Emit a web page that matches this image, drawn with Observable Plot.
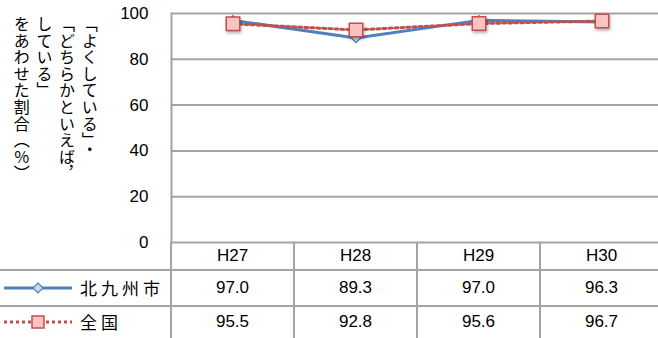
<!DOCTYPE html>
<html><head><meta charset="utf-8">
<script src="https://cdn.jsdelivr.net/npm/d3@7"></script>
<script src="https://cdn.jsdelivr.net/npm/@observablehq/plot@0.6"></script>
<style>
body{margin:0;background:#fff;}
#wrap{position:relative;width:658px;height:338px;overflow:hidden;font-family:"Liberation Sans",Arial,sans-serif;color:#000;}
#chart{position:absolute;left:0;top:0;}
#ylabel{position:absolute;top:16px;left:10px;height:200px;writing-mode:vertical-rl;font-family:"Noto Sans CJK JP",sans-serif;font-size:16px;line-height:22.7px;letter-spacing:0.6px;white-space:nowrap;}
.hl{position:absolute;left:0;width:658px;height:2px;background:#a3a3a3;}
.vl{position:absolute;width:2px;background:#a3a3a3;}
.cell{position:absolute;text-align:center;font-size:17px;line-height:20px;transform:translate(-50%,-50%);white-space:nowrap;}
.lg{position:absolute;left:80px;font-family:"Noto Sans CJK JP",sans-serif;font-size:17px;letter-spacing:4px;transform:translateY(-50%);line-height:20px;}
.sq{filter:drop-shadow(1px 2px 1.5px rgba(0,0,0,0.3));}
</style>
</head><body>
<div id="wrap">
  <div id="chart"></div>
  <div id="ylabel">「よくしている」・<br>「どちらかといえば，<br>している」<br>をあわせた割合（％）</div>
</div>
<script>
const years = ["H27", "H28", "H29", "H30"];
const seriesNames = ["北九州市", "全国"];
const kitakyushu = [97.0, 89.3, 97.0, 96.3];
const national = [95.5, 92.8, 95.6, 96.7];
const yTicks = [0, 20, 40, 60, 80, 100];

const cityData = years.map((y, i) => ({year: y, value: kitakyushu[i]}));
const natData = years.map((y, i) => ({year: y, value: national[i]}));

const blue = "#4f81bd", red = "#c0504d";

const plot = Plot.plot({
  width: 658,
  height: 338,
  marginLeft: 171,
  marginRight: 0,
  marginTop: 13,
  marginBottom: 96,
  x: {type: "band", domain: years, range: [171, 663], padding: 0, axis: null},
  y: {domain: [0, 100], axis: null},
  style: {fontFamily: "'Liberation Sans', Arial, sans-serif", background: "transparent", overflow: "visible"},
  marks: [
    Plot.gridY(yTicks, {stroke: "#a3a3a3", strokeOpacity: 1, strokeWidth: 2}),
    Plot.frame({anchor: "left", stroke: "#a3a3a3", strokeWidth: 2}),
    Plot.axisY(yTicks, {tickSize: 0, tickPadding: 23, fontSize: 17, label: null, fill: "#000"}),
    Plot.line(cityData, {x: "year", y: "value", stroke: blue, strokeWidth: 3}),
    Plot.dot(cityData, {x: "year", y: "value", symbol: "diamond2", r: 4.3, fill: "#c6d9f1", stroke: blue, strokeWidth: 1.2}),
    Plot.line(natData, {x: "year", y: "value", stroke: red, strokeWidth: 3, strokeDasharray: "3,3"}),
    Plot.dot(natData, {x: "year", y: "value", symbol: "square", r: 7.6, fill: "#f8c4c2", stroke: red, strokeWidth: 1.5, className: "sq"})
  ]
});
document.getElementById("chart").appendChild(plot);

// data table below the plot, aligned to the plot's x scale
const wrap = document.getElementById("wrap");
const xs = plot.scale("x");
const bw = xs.bandwidth;
const rowLines = [269, 305];
rowLines.forEach(t => {
  const d = document.createElement("div"); d.className = "hl"; d.style.top = t + "px"; wrap.appendChild(d);
});
years.forEach(y => {
  const left = xs.apply(y);
  const d = document.createElement("div"); d.className = "vl";
  d.style.left = (left - 1) + "px"; d.style.top = "242px"; d.style.height = "96px";
  wrap.appendChild(d);
});
const rowCenters = [256, 288, 322];
function cell(txt, x, y) {
  const d = document.createElement("div"); d.className = "cell";
  d.textContent = txt; d.style.left = x + "px"; d.style.top = y + "px"; wrap.appendChild(d);
}
years.forEach((y, i) => {
  const cx = xs.apply(y) + bw / 2;
  cell(y, cx, rowCenters[0]);
  cell(kitakyushu[i].toFixed(1), cx, rowCenters[1]);
  cell(national[i].toFixed(1), cx, rowCenters[2]);
});
// legend entries in the first column
function legend(name, y, color, dash, sym) {
  const ns = "http://www.w3.org/2000/svg";
  const s = document.createElementNS(ns, "svg");
  s.setAttribute("width", 78); s.setAttribute("height", 20);
  s.style.position = "absolute"; s.style.left = "0px"; s.style.top = (y - 10) + "px";
  const l = document.createElementNS(ns, "line");
  l.setAttribute("x1", 4); l.setAttribute("x2", 72); l.setAttribute("y1", 10); l.setAttribute("y2", 10);
  l.setAttribute("stroke", color); l.setAttribute("stroke-width", 3);
  if (dash) l.setAttribute("stroke-dasharray", dash);
  s.appendChild(l);
  if (sym === "diamond") {
    const p = document.createElementNS(ns, "path");
    p.setAttribute("d", "M38,5 L43,10 L38,15 L33,10 Z");
    p.setAttribute("fill", "#c6d9f1"); p.setAttribute("stroke", color); p.setAttribute("stroke-width", 1.2);
    s.appendChild(p);
  } else {
    const r = document.createElementNS(ns, "rect");
    r.setAttribute("x", 32); r.setAttribute("y", 4); r.setAttribute("width", 12); r.setAttribute("height", 12);
    r.setAttribute("fill", "#f8c4c2"); r.setAttribute("stroke", color); r.setAttribute("stroke-width", 1.5);
    s.appendChild(r);
  }
  wrap.appendChild(s);
  const t = document.createElement("div"); t.className = "lg"; t.textContent = name; t.style.top = y + "px";
  wrap.appendChild(t);
}
legend(seriesNames[0], rowCenters[1], blue, null, "diamond");
legend(seriesNames[1], rowCenters[2], red, "3,3", "square");
</script>
</body></html>
